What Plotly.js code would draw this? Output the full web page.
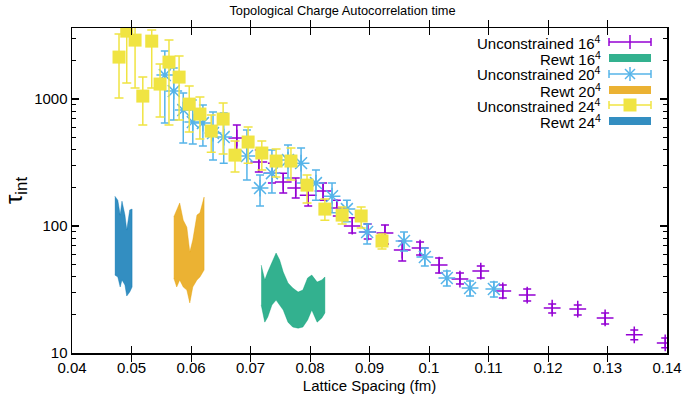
<!DOCTYPE html>
<html>
<head>
<meta charset="utf-8">
<script src="https://cdn.plot.ly/plotly-3.0.1.min.js"></script>
<style>html,body{margin:0;padding:0;background:#fff}#chart{width:685px;height:402px}</style>
</head>
<body>
<div id="chart"></div>
<script>
// ---- Data ----
// Unconstrained 16^4
const u16_x  = [0.0677,0.0714,0.0736,0.0755,0.0776,0.0797,0.0822,0.0845,0.0871,0.0897,0.0926,0.0955,0.0985,0.1017,0.1052,0.1087,0.1124,0.1165,0.1207,0.1250,0.1296,0.1345,0.1397];
const u16_y  = [493,319,261,222,199,175,189,139,100,89.7,88.1,64.7,67.1,49.3,38.2,44.2,30.8,28.6,22.6,22.2,18.9,13.9,12.0];
const u16_hi = [624,397,313,261,239,210,218,160,116,104,102,76.2,74.8,56.0,42.6,48.4,34.3,31.9,24.3,23.9,20.7,15.2,13.1];
const u16_lo = [382,266,218,182,166,144,160,120,88.1,79.0,72.2,53.0,59.1,42.6,34.9,39.0,27.1,25.7,20.7,19.9,16.9,12.7,11.0];

// Unconstrained 20^4
const u20_x  = [0.0556,0.0571,0.0587,0.0603,0.0620,0.0637,0.0655,0.0694,0.0716,0.0736,0.0763,0.0785,0.0810,0.0837,0.0862,0.0896,0.0958,0.0993,0.1030,0.1069,0.1109];
const u20_y  = [1545,1156,819,659,647,540,502,356,199,261,331,313,218,172,136,89.7,76.2,57.0,39.0,32.5,31.9];
const u20_hi = [2388,1754,1115,982,897,790,776,570,252,397,434,411,276,218,160,104,89.7,67.1,44.2,36.9,36.2];
const u20_lo = [647,683,450,442,427,331,313,230,144,182,239,218,160,127,108,72.2,63.6,48.4,33.7,28.1,27.6];

// Unconstrained 24^4
const u24_x  = [0.0479,0.0492,0.0506,0.0519,0.0534,0.0548,0.0563,0.0580,0.0597,0.0615,0.0634,0.0654,0.0674,0.0696,0.0719,0.0743,0.0768,0.0795,0.0825,0.0854,0.0886,0.0921];
const u24_y  = [2142,3431,2914,1056,2861,1313,1956,1490,913,762,560,696,362,459,376,325,325,210,136,122,120,76.2];
const u24_hi = [3250,6000,6000,1490,3494,1886,2914,2181,1266,1037,748,930,467,602,467,404,411,252,163,141,141,86.5];
const u24_lo = [1018,1336,1221,624,1221,722,624,683,550,484,382,369,266,313,276,243,230,152,111,104,96.4,65.9];

// Reweighted bands
const r16_x  = [0.0718,0.0724,0.0729,0.0736,0.0743,0.0749,0.0755,0.0763,0.0771,0.0780,0.0788,0.0796,0.0803,0.0812,0.0820,0.0825];
const r16_hi = [49.3,37.6,43.4,52.1,61.3,54.0,43.4,35.6,32.5,30.2,31.3,39.0,41.1,36.2,37.6,39.7];
const r16_lo = [23.9,17.5,19.2,23.9,26.1,23.9,21.8,17.5,16.0,15.7,16.0,18.2,21.8,17.5,18.9,20.7];

const r20_x  = [0.0571,0.0576,0.0581,0.0587,0.0593,0.0598,0.0603,0.0610,0.0615,0.0622];
const r20_hi = [118,134,152,111,98,62.4,77.6,122,127,169];
const r20_lo = [39.0,33.1,37.6,33.1,31.3,24.8,33.1,37.6,39.7,45.0];

const r24_x  = [0.0472,0.0477,0.0481,0.0484,0.0489,0.0492,0.0497,0.0501];
const r24_hi = [172,160,122,157,122,93,134,136];
const r24_lo = [41.1,39.7,33.1,37.6,34.3,28.1,30.2,33.1];

const legendLabels = ['Unconstrained 16<sup>4</sup>','Rewt 16<sup>4</sup>','Unconstrained 20<sup>4</sup>','Rewt 20<sup>4</sup>','Unconstrained 24<sup>4</sup>','Rewt 24<sup>4</sup>'];
const yMinorTicks = [20,30,40,50,60,70,80,90,200,300,400,500,600,700,800,900,2000,3000];

// ---- Styles ----
const C_PURPLE = '#9400d3', C_GREEN = 'rgba(0,158,115,0.8)', C_LBLUE = '#56b4e9',
      C_ORANGE = 'rgba(230,159,0,0.8)', C_YELLOW = '#f0e442', C_BLUE = 'rgba(0,114,178,0.8)';

function band(x, hi, lo, color) {
  return {x: x.concat(x.slice().reverse()), y: hi.concat(lo.slice().reverse()),
    type:'scatter', mode:'lines', fill:'toself', fillcolor: color,
    line:{width:0.5, color: color}, hoverinfo:'skip', showlegend:false};
}
function errs(y, hi, lo, color, w) {
  return {type:'data', symmetric:false,
    array: hi.map((h,i)=>h-y[i]), arrayminus: lo.map((l,i)=>y[i]-l),
    color: color, thickness:1.5, width:w};
}

const traces = [
  band(r24_x, r24_hi, r24_lo, C_BLUE),
  band(r20_x, r20_hi, r20_lo, C_ORANGE),
  band(r16_x, r16_hi, r16_lo, C_GREEN),
  {x:u16_x, y:u16_y, type:'scatter', mode:'markers', showlegend:false,
   marker:{symbol:'cross-thin-open', size:12, color:C_PURPLE, line:{width:1.5, color:C_PURPLE}},
   error_y: errs(u16_y,u16_hi,u16_lo,C_PURPLE,4)},
  {x:u20_x, y:u20_y, type:'scatter', mode:'markers', showlegend:false,
   marker:{symbol:'asterisk-open', size:14, color:C_LBLUE, line:{width:1.5, color:C_LBLUE}},
   error_y: errs(u20_y,u20_hi,u20_lo,C_LBLUE,4)},
  {x:u24_x, y:u24_y, type:'scatter', mode:'markers', showlegend:false,
   marker:{symbol:'square', size:13, color:C_YELLOW, line:{width:0}},
   error_y: errs(u24_y,u24_hi,u24_lo,C_YELLOW,4.5)},
  // invisible trace to activate the minor-tick overlay axis
  {x:[u16_x[0]], y:[u16_y[0]], xaxis:'x', yaxis:'y2', type:'scatter', mode:'markers',
   marker:{opacity:0}, showlegend:false, hoverinfo:'skip'}
];

// ---- Custom legend (gnuplot style: text right, sample left of frame) ----
const L = 72, R = 667, T = 28, B = 353;
const PX = p => (p - L) / (R - L);
const PY = p => 1 - (p - T) / (B - T);
const rowsY = [42, 58, 74, 90, 105, 121];
const sx0 = 609, sx1 = 651, sxc = 630;
const shapes = [], annotations = [];
const line = (x0,y0,x1,y1,c) => shapes.push({type:'line', xref:'paper', yref:'paper',
  x0:PX(x0), y0:PY(y0), x1:PX(x1), y1:PY(y1), line:{color:c, width:1.5}});
const rect = (x0,y0,x1,y1,c) => shapes.push({type:'rect', xref:'paper', yref:'paper',
  x0:PX(x0), y0:PY(y0), x1:PX(x1), y1:PY(y1), fillcolor:c, line:{width:0}});
const errSample = (y,c) => { line(sx0,y,sx1,y,c); line(sx0,y-4,sx0,y+4,c); line(sx1,y-4,sx1,y+4,c); };

legendLabels.forEach((t,i) => annotations.push({xref:'paper', yref:'paper', x:PX(603), y:PY(rowsY[i]),
  xanchor:'right', yanchor:'middle', text:t, showarrow:false,
  font:{family:'Liberation Sans, Arial, sans-serif', size:15, color:'#000'}}));
// row 0 purple cross
errSample(rowsY[0], C_PURPLE); line(sxc, rowsY[0]-7, sxc, rowsY[0]+7, C_PURPLE);
// row 1 green band
rect(sx0, rowsY[1]-4, sx1, rowsY[1]+4, C_GREEN);
// row 2 light blue asterisk
errSample(rowsY[2], C_LBLUE); line(sxc, rowsY[2]-7, sxc, rowsY[2]+7, C_LBLUE);
line(sxc-5, rowsY[2]-5, sxc+5, rowsY[2]+5, C_LBLUE); line(sxc-5, rowsY[2]+5, sxc+5, rowsY[2]-5, C_LBLUE);
// row 3 orange band
rect(sx0, rowsY[3]-4, sx1, rowsY[3]+4, C_ORANGE);
// row 4 yellow square
errSample(rowsY[4], C_YELLOW); rect(sxc-6.5, rowsY[4]-6.5, sxc+6.5, rowsY[4]+6.5, C_YELLOW);
// row 5 blue band
rect(sx0, rowsY[5]-4, sx1, rowsY[5]+4, C_BLUE);

const font = {family:'Liberation Sans, Arial, sans-serif', color:'#000'};
const yRange = [1, Math.log10(3630)];
const layout = {
  width:685, height:402,
  margin:{l:L, r:685-R, t:T, b:402-B},
  paper_bgcolor:'#fff', plot_bgcolor:'#fff',
  font: Object.assign({size:15}, font),
  title:{text:'Topological Charge Autocorrelation time', font:Object.assign({size:12.8}, font),
         x:0.5, xref:'container', y:0.975, yref:'container', yanchor:'middle'},
  showlegend:false,
  xaxis:{range:[0.04,0.14], dtick:0.01, tick0:0.04, showgrid:false, zeroline:false,
    showline:true, mirror:'allticks', linecolor:'#000', linewidth:1.5,
    ticks:'inside', ticklen:7, tickwidth:1, tickcolor:'#000',
    tickfont:Object.assign({size:15}, font),
    title:{text:'Lattice Spacing (fm)', font:Object.assign({size:15}, font), standoff:6}},
  yaxis:{type:'log', range:yRange, dtick:1, tick0:0, exponentformat:'none',
    showgrid:false, zeroline:false, showline:true, mirror:'allticks', linecolor:'#000', linewidth:1.5,
    ticks:'inside', ticklen:7, tickwidth:1.2, tickcolor:'#000',
    tickfont:Object.assign({size:15}, font),
    title:{text:'τ<sub>int</sub>', font:Object.assign({size:24}, font), standoff:10}},
  yaxis2:{type:'log', range:yRange, overlaying:'y', side:'left', anchor:'x', tickmode:'array', tickvals:yMinorTicks,
    showticklabels:false, ticks:'inside', ticklen:4, tickwidth:1.2, tickcolor:'#000',
    showgrid:false, zeroline:false, showline:false, mirror:'allticks'},
  shapes: shapes, annotations: annotations
};
Plotly.newPlot('chart', traces, layout, {displayModeBar:false, staticPlot:true});
</script>
</body>
</html>
